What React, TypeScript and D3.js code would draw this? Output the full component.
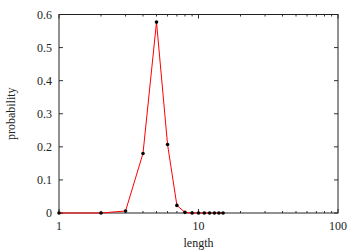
import React from "react";
import * as d3 from "d3";

const lengths = [1, 2, 3, 4, 5, 6, 7, 8, 9, 10, 11, 12, 13, 14, 15];
const probabilities = [0, 0, 0.006, 0.18, 0.577, 0.207, 0.023, 0.002, 0, 0, 0, 0, 0, 0, 0];
const yTicks = [0, 0.1, 0.2, 0.3, 0.4, 0.5, 0.6];
const xMajorTicks = [1, 10, 100];
const xMinorTicks = [2, 3, 4, 5, 6, 7, 8, 9, 20, 30, 40, 50, 60, 70, 80, 90];

export default function App() {
  const W = 360, H = 252;
  const left = 59, right = 338, top = 14.5, bottom = 213;
  const x = d3.scaleLog().domain([1, 100]).range([left, right]);
  const y = d3.scaleLinear().domain([0, 0.6]).range([bottom, top]);
  const line = d3.line<number>().x((_, i) => x(lengths[i])).y((d) => y(d));
  const ts = { fontFamily: '"Liberation Serif", "Times New Roman", Times, serif', fontSize: "12px" };
  const tc = "#333";
  return (
    <svg width={W} height={H} style={{ position: "absolute", left: 0, top: 0 }}>
      <rect width={W} height={H} fill="#fff" />
      {yTicks.map((t) => (
        <g key={"y" + t}>
          <line x1={left} x2={left + 4} y1={y(t)} y2={y(t)} stroke={tc} />
          <line x1={right} x2={right - 4} y1={y(t)} y2={y(t)} stroke={tc} />
          <text x={left - 7} y={y(t)} dy="0.35em" textAnchor="end" style={ts} fill="#222">
            {t === 0 ? "0" : t.toFixed(1)}
          </text>
        </g>
      ))}
      {xMajorTicks.map((t) => (
        <g key={"x" + t}>
          <line x1={x(t)} x2={x(t)} y1={bottom} y2={bottom - 4} stroke={tc} />
          <line x1={x(t)} x2={x(t)} y1={top} y2={top + 4} stroke={tc} />
          <text x={x(t)} y={bottom + 17} textAnchor="middle" style={ts} fill="#222">
            {t}
          </text>
        </g>
      ))}
      {xMinorTicks.map((t) => (
        <g key={"m" + t}>
          <line x1={x(t)} x2={x(t)} y1={bottom} y2={bottom - 2} stroke={tc} />
          <line x1={x(t)} x2={x(t)} y1={top} y2={top + 2} stroke={tc} />
        </g>
      ))}
      <rect x={left} y={top} width={right - left} height={bottom - top} fill="none" stroke="#222" strokeWidth={1} />
      <path d={line(probabilities) || ""} fill="none" stroke="#f00" strokeWidth={1} />
      {probabilities.map((p, i) => (
        <circle key={i} cx={x(lengths[i])} cy={y(p)} r={1.8} fill="#000" />
      ))}
      <text x={(left + right) / 2} y={246.5} textAnchor="middle" style={ts} fill="#222">
        length
      </text>
      <text transform={`translate(15,${(top + bottom) / 2}) rotate(-90)`} textAnchor="middle" style={ts} fill="#222">
        probability
      </text>
    </svg>
  );
}
